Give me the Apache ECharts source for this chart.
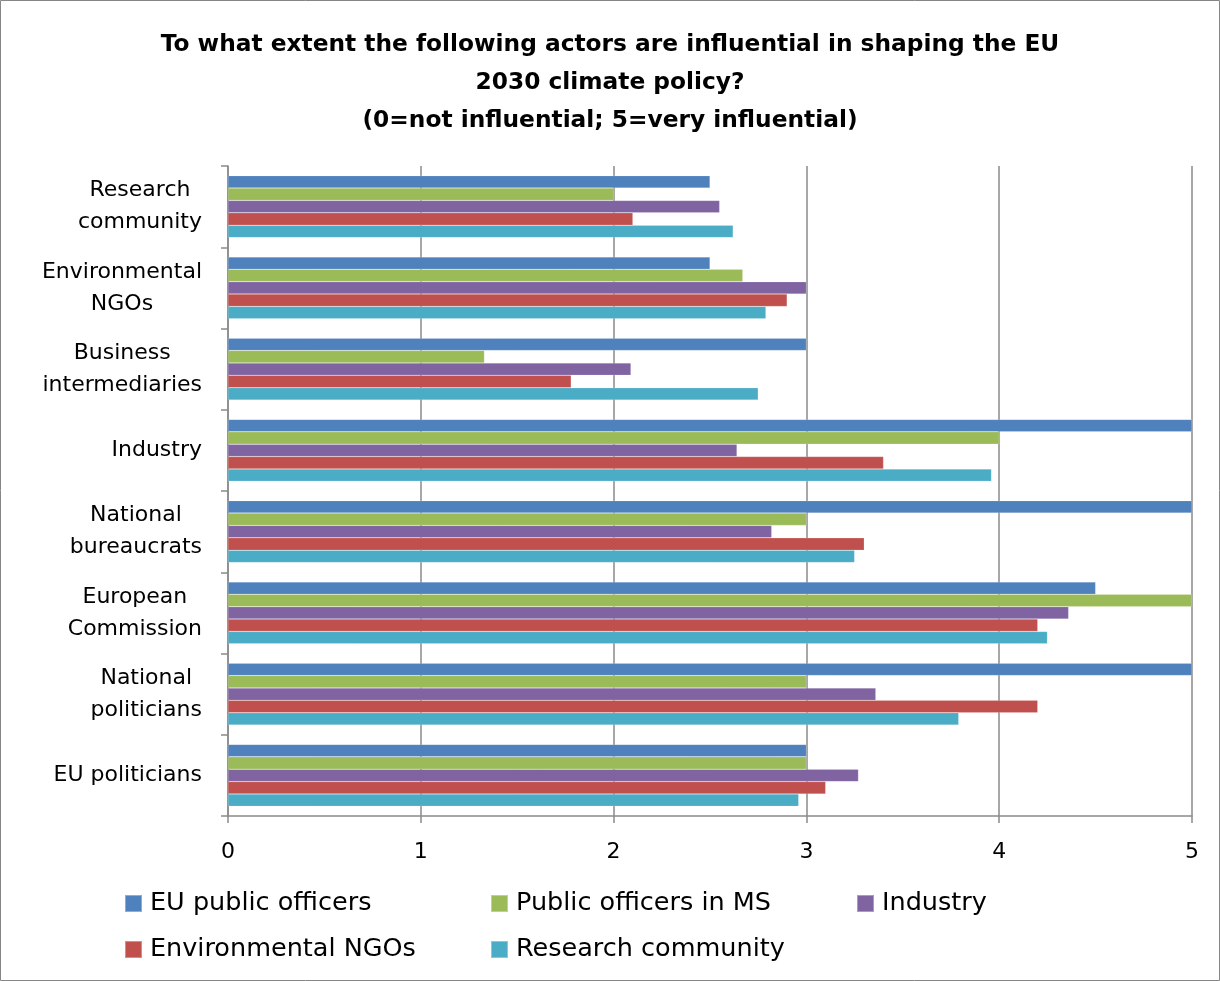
<!DOCTYPE html>
<html>
<head>
<meta charset="utf-8">
<script src="https://cdn.jsdelivr.net/npm/echarts@6/dist/echarts.min.js"></script>
<style>
  body { margin: 0; background: #fff; }
  #main { width: 1220px; height: 981px; }
</style>
</head>
<body>
<div id="main"></div>
<script>
// actors (top to bottom)
const categories = [
  'Research\ncommunity',
  'Environmental\nNGOs',
  'Business\nintermediaries',
  'Industry',
  'National\nbureaucrats',
  'European\nCommission',
  'National\npoliticians',
  'EU politicians'
]

const seriesNames = ['EU public officers', 'Public officers in MS', 'Industry', 'Environmental NGOs', 'Research community']

const euPublicOfficers = [2.5, 2.5, 3.0, 5.0, 5.0, 4.5, 5.0, 3.0]
const publicOfficersMS = [2.0, 2.67, 1.33, 4.0, 3.0, 5.0, 3.0, 3.0]
const industry = [2.55, 3.0, 2.09, 2.64, 2.82, 4.36, 3.36, 3.27]
const envNGOs = [2.1, 2.9, 1.78, 3.4, 3.3, 4.2, 4.2, 3.1]
const researchCommunity = [2.62, 2.79, 2.75, 3.96, 3.25, 4.25, 3.79, 2.96]

const xTicks = [0, 1, 2, 3, 4, 5]

const colors = ['#4F81BD', '#9BBB59', '#8064A2', '#C0504D', '#4BACC6']
const font = 'DejaVu Sans'
const gray = '#8a8a8a'

const seriesData = [euPublicOfficers, publicOfficersMS, industry, envNGOs, researchCommunity]

const myChart = echarts.init(document.getElementById('main'))

const option = {
  animation: false,
  color: colors,
  title: {
    text: 'To what extent the following actors are influential in shaping the EU\n2030 climate policy?\n(0=not influential; 5=very influential)',
    left: 'center',
    top: 26,
    padding: 0,
    textStyle: {
      fontFamily: font,
      fontSize: 23.3,
      fontWeight: 'bold',
      color: '#000',
      lineHeight: 38
    }
  },
  graphic: [
    {
      type: 'rect',
      shape: { x: 0.5, y: 0.5, width: 1219, height: 980 },
      style: { fill: 'none', stroke: '#868686', lineWidth: 1 },
      silent: true
    }
  ],
  grid: {
    left: 228,
    right: 28,
    top: 166,
    bottom: 165,
    containLabel: false
  },
  legend: {
    data: seriesNames,
    left: 124,
    top: 888,
    width: 1090,
    padding: 0,
    icon: 'rect',
    itemWidth: 17,
    itemHeight: 17,
    itemGap: 15,
    textStyle: {
      fontFamily: font,
      fontSize: 25.5,
      color: '#000',
      width: 325,
      lineHeight: 31,
      padding: [0, 0, 0, 3]
    }
  },
  xAxis: {
    type: 'value',
    min: xTicks[0],
    max: xTicks[xTicks.length - 1],
    interval: 1,
    axisLine: { show: true, lineStyle: { color: gray, width: 1.5 } },
    axisTick: { show: true, length: 7, lineStyle: { color: gray, width: 1.5 } },
    splitLine: { show: true, lineStyle: { color: gray, width: 1.5 } },
    axisLabel: {
      margin: 25,
      fontFamily: font,
      fontSize: 22,
      color: '#000'
    }
  },
  yAxis: {
    type: 'category',
    inverse: true,
    data: categories,
    axisLine: { show: true, lineStyle: { color: gray, width: 1.5 } },
    axisTick: { show: true, length: 7, lineStyle: { color: gray, width: 1.5 } },
    axisLabel: {
      margin: 26,
      interval: 0,
      formatter: function (value) {
        // keep the lines of a label centred on each other
        return value.split('\n').map(s => '{c|' + s + '}').join('\n')
      },
      rich: {
        c: {
          align: 'center',
          fontFamily: font,
          fontSize: 22,
          lineHeight: 32,
          color: '#000'
        }
      }
    }
  },
  series: seriesNames.map((name, i) => {
    return {
      name: name,
      type: 'bar',
      barGap: '0%',
      barCategoryGap: '23.7%',
      itemStyle: {
        borderColor: 'rgba(255,255,255,0.35)',
        borderWidth: 0.5
      },
      data: seriesData[i]
    }
  })
}

myChart.setOption(option)
</script>
</body>
</html>
